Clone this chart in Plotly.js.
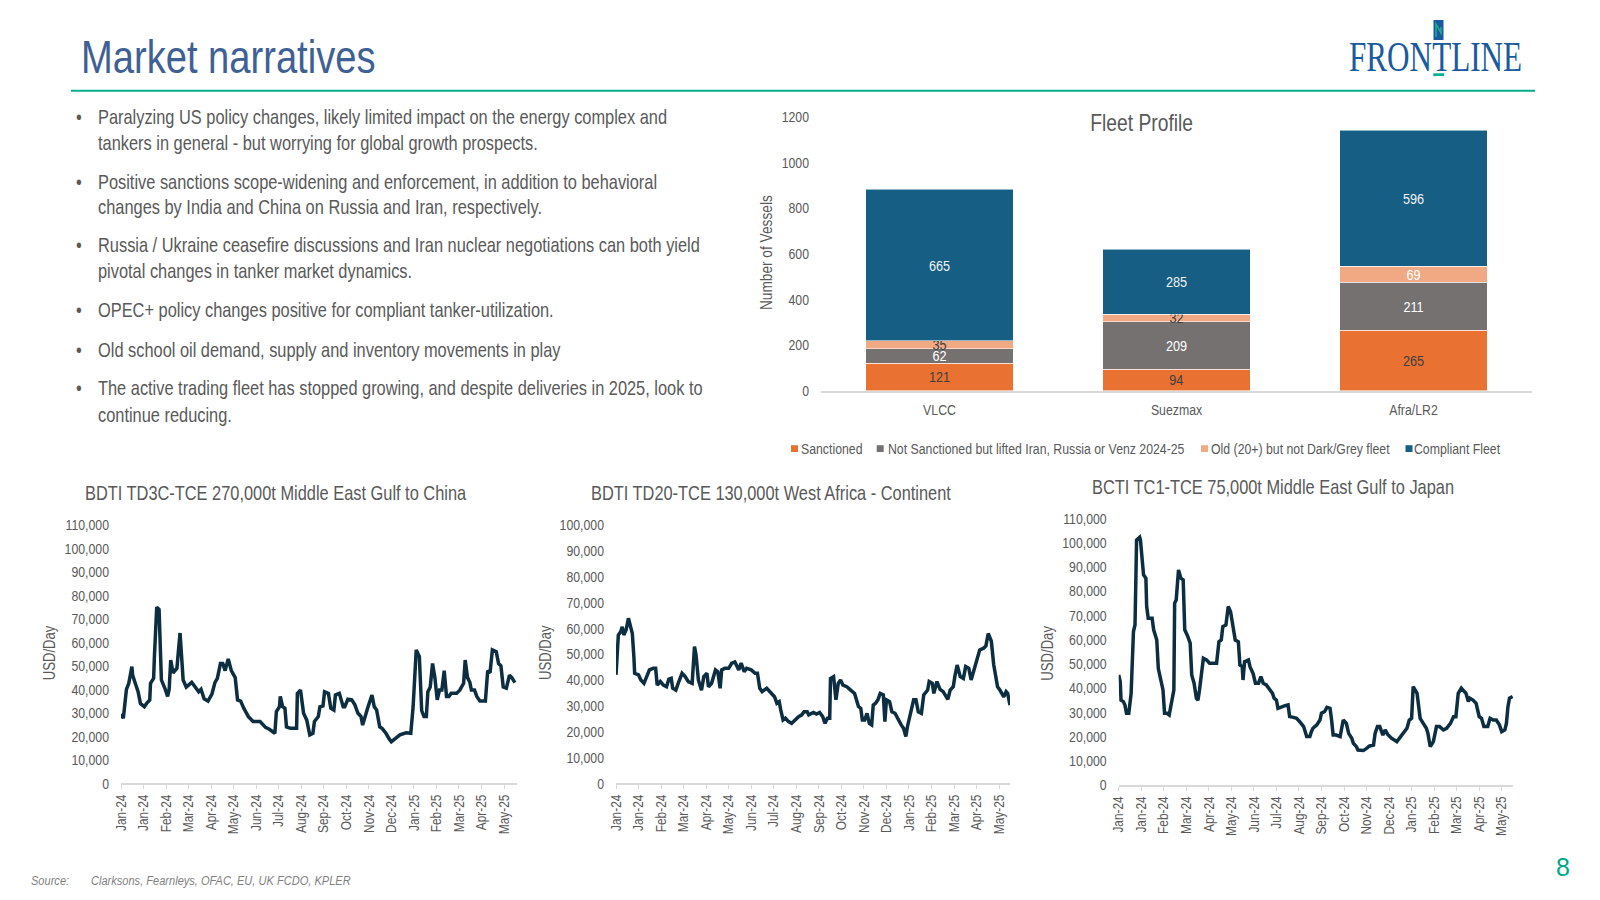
<!DOCTYPE html>
<html>
<head>
<meta charset="utf-8">
<script src="https://cdn.plot.ly/plotly-3.0.1.min.js"></script>
<style>
html,body{margin:0;padding:0;background:#ffffff;}
#wrap{position:relative;width:1600px;height:900px;overflow:hidden;}
#chart{position:absolute;left:0;top:0;width:1600px;height:900px;}
#logo{position:absolute;left:1349px;top:36px;font-family:"Liberation Serif","Times New Roman",serif;font-size:42px;line-height:42px;color:#1a5a9e;transform:scaleX(0.742);transform-origin:0 0;white-space:nowrap;letter-spacing:0px;}
</style>
</head>
<body>
<div id="wrap">
<div id="chart"></div>
<div id="logo">FRONTLINE</div>
</div>
<script>
// ---------------- DATA ----------------
const fleetCategories = ['VLCC', 'Suezmax', 'Afra/LR2'];
const fleetSanctioned = [121, 94, 265];
const fleetNotSanctionedLifted = [62, 209, 211];
const fleetOldNotDark = [35, 32, 69];
const fleetCompliant = [665, 285, 596];
const fleetSeriesNames = ['Sanctioned', 'Not Sanctioned but lifted Iran, Russia or Venz 2024-25', 'Old (20+) but not Dark/Grey fleet', 'Compliant Fleet'];

// day offsets from 1 Jan 2024
const td3cDays = [0,3,7,10,14,15,19,22,25,30,33,37,38,42,43,46,49,52,57,60,62,64,67,72,73,76,80,84,91,95,100,103,107,112,117,121,124,128,131,134,138,142,147,150,154,158,164,170,179,186,191,198,200,204,205,208,211,213,218,226,227,231,235,239,243,247,249,254,256,260,262,267,270,274,276,281,286,288,292,297,301,305,309,311,314,318,323,326,329,333,336,341,345,348,353,359,367,373,376,380,384,387,390,393,395,398,401,404,407,410,413,416,419,422,425,432,436,441,443,446,449,451,455,458,462,469,472,475,478,483,486,489,492,496,500,503,507];
const td3cRates = [29500,27700,40000,42600,49700,46000,42000,39000,34000,32600,34000,35500,42600,44700,54000,75000,74000,44000,40000,37000,40000,52500,47000,49000,53000,64000,44000,41000,43000,41000,39000,40000,36000,35000,38000,43000,44700,51000,51000,48000,53000,48000,45000,35500,35000,32000,28400,26300,26300,23800,23000,21300,30500,32600,37000,32600,32000,24000,23400,23400,38300,39700,29800,27000,20600,21300,26300,28400,32600,33000,39000,38300,32000,31200,37600,38300,32600,32600,35800,35500,33400,29800,28400,24800,28400,32600,37600,32600,31200,24000,23400,21300,19000,17700,19000,20600,21500,21300,32600,56800,54000,31000,28400,28400,39000,41000,51000,45000,35500,39700,39700,48000,37000,37000,38300,38300,39700,42600,52500,45000,43000,39700,39700,37000,35000,35000,48000,47000,56800,56000,51000,50000,41000,40500,46000,45000,42900];

const td20Days = [0,3,6,8,10,13,16,19,21,23,24,29,32,36,40,43,48,51,53,57,61,65,68,71,73,77,80,85,89,93,98,101,103,106,110,113,117,119,123,128,131,134,136,140,145,149,153,158,161,165,168,174,179,182,185,188,194,198,202,204,207,210,212,215,218,222,226,230,235,239,242,246,248,254,258,262,266,269,272,275,276,280,283,286,289,292,297,302,307,312,315,317,320,323,326,329,331,334,337,340,344,346,348,352,355,359,363,367,370,373,375,379,383,386,389,393,396,401,403,407,409,413,417,421,427,430,434,436,439,443,447,450,454,457,461,464,468,473,476,479,483,486,488,491,494,499,502,504,507];
const td20Rates = [42000,57400,58700,60600,57400,59400,63900,59400,58000,49000,42600,42000,40000,38700,41300,43900,44500,44500,38000,39400,38000,37400,40300,40600,36800,36100,38700,42600,41300,39400,38700,52900,49700,40000,36000,41300,42600,37400,38700,43900,43200,36800,43900,44500,44500,46500,47000,43900,46500,43200,44500,43900,42600,42600,36800,35500,36800,35500,34200,33500,31000,31600,28400,24500,25200,23900,23200,24500,25800,26500,27700,27700,26500,27400,26800,27400,25800,23200,25200,25200,40600,41300,32300,38700,40000,38000,37400,36100,34800,29700,29000,24500,24500,27100,23200,22600,30300,31000,32300,34800,34200,23900,32300,31600,27700,27100,24500,22600,21300,18100,21900,27100,32300,32300,27700,27100,34200,36100,39400,38700,34800,39400,36400,35500,32500,36100,37400,41300,45800,41300,40600,45200,44500,40000,44500,48400,51600,52300,53200,58000,55000,46000,42000,37400,36100,33500,35500,34800,30300];

const tc1Days = [0,2,3,6,8,10,13,15,16,19,21,23,27,28,32,35,36,38,43,45,49,51,54,57,59,62,65,68,71,72,74,77,80,83,85,89,92,94,97,100,102,104,107,109,113,117,126,129,132,134,138,141,144,147,150,154,156,159,160,162,167,169,173,176,180,183,186,190,195,198,200,203,205,210,214,218,220,225,229,233,238,242,246,248,250,255,259,261,265,268,272,274,276,280,285,289,293,296,300,302,306,308,315,319,323,328,330,333,336,340,343,346,351,358,364,371,374,377,379,381,384,388,392,396,398,401,405,409,413,418,422,427,431,434,437,441,447,450,452,456,460,464,467,470,475,478,482,486,490,493,497,499,501,503,507];
const tc1Rates = [45400,42600,35000,34400,33000,29600,29600,33700,37800,63300,66000,101000,102200,101000,86700,85300,73600,68800,68800,64000,59800,48000,43300,39200,29600,29600,28900,35000,39200,75000,76300,88700,85300,84600,64000,61200,58500,45400,42000,35800,35000,39200,48800,52300,51600,50200,50200,59100,59800,65300,66000,73600,71500,64600,59800,59100,49500,48800,43300,50900,51600,48800,46000,42000,42000,44700,42000,41300,39200,37800,35800,35000,31600,32300,32700,33000,28200,27900,27500,26100,24100,20000,20000,22000,23400,24800,26800,29600,30300,32000,31600,26800,20600,20600,20000,26800,25400,21300,19300,17200,15800,14400,14200,15100,16100,16500,21300,24100,24100,20600,22700,21000,19300,17900,20600,23400,26800,27500,40600,39200,37800,27500,25400,23400,21300,15800,17900,24100,24100,22700,23400,25400,28200,28200,37800,39900,37800,34400,35800,35000,33700,28200,27500,24100,24100,27500,26800,26800,24800,22000,22700,25400,32300,35800,36500];

const chartTitles = ['BDTI TD3C-TCE 270,000t Middle East Gulf to China', 'BDTI TD20-TCE 130,000t West Africa - Continent', 'BCTI TC1-TCE 75,000t Middle East Gulf to Japan'];

const bulletLines = [
  ['Paralyzing US policy changes, likely limited impact on the energy complex and', 'tankers in general - but worrying for global growth prospects.'],
  ['Positive sanctions scope-widening and enforcement, in addition to behavioral', 'changes by India and China on Russia and Iran, respectively.'],
  ['Russia / Ukraine ceasefire discussions and Iran nuclear negotiations can both yield', 'pivotal changes in tanker market dynamics.'],
  ['OPEC+ policy changes positive for compliant tanker-utilization.'],
  ['Old school oil demand, supply and inventory movements in play'],
  ['The active trading fleet has stopped growing, and despite deliveries in 2025, look to', 'continue reducing.']
];

// ---------------- HELPERS ----------------
const W = 1600, H = 900;
const px = x => x / W;
const py = y => 1 - y / H;
const NARROW = '"Liberation Sans Narrow", "Arial Narrow", "Liberation Sans", Arial, sans-serif';
const GREY = '#595959';
const DAY = 86400000;
const START = Date.UTC(2024, 0, 1);
const toDate = d => new Date(START + d * DAY).toISOString().replace('T', ' ').slice(0, 19);

// ---------------- TRACES ----------------
const fleetValues = [fleetSanctioned, fleetNotSanctionedLifted, fleetOldNotDark, fleetCompliant];
const fleetColors = ['#E97132', '#767171', '#F1A983', '#165E83'];
const fleetLabelColors = [
  ['#404040', '#404040', '#404040'],
  ['#ffffff', '#ffffff', '#ffffff'],
  ['#404040', '#404040', '#ffffff'],
  ['#f2f2f2', '#f2f2f2', '#f2f2f2']
];
const traces = [];
fleetValues.forEach((vals, i) => {
  traces.push({
    type: 'bar', name: fleetSeriesNames[i], x: fleetCategories, y: vals,
    xaxis: 'x', yaxis: 'y',
    marker: {color: fleetColors[i], line: {color: 'rgba(255,255,255,0.55)', width: 1}},
    text: vals.map(String), textposition: 'inside', insidetextanchor: 'middle',
    textangle: 0, constraintext: 'none',
    textfont: {family: NARROW, size: 15.5, color: fleetLabelColors[i]},
    showlegend: false, hoverinfo: 'skip'
  });
});

const lineSeries = [[td3cDays, td3cRates], [td20Days, td20Rates], [tc1Days, tc1Rates]];
lineSeries.forEach((s, i) => {
  traces.push({
    type: 'scatter', mode: 'lines', x: s[0].map(toDate), y: s[1],
    xaxis: 'x' + (i + 2), yaxis: 'y' + (i + 2),
    line: {color: '#0c2e40', width: 3.5, shape: 'linear'},
    showlegend: false, hoverinfo: 'skip'
  });
});

// ---------------- LAYOUT ----------------
const tickFont = {family: NARROW, size: 15, color: GREY};
function dateAxis(x0, x1, endDay) {
  return {
    type: 'date', domain: [px(x0), px(x1)], range: [toDate(0), toDate(endDay)],
    tick0: '2024-01-01', dtick: 29 * DAY, tickformat: '%b-%y', tickangle: -90,
    ticks: 'outside', ticklen: 4, tickcolor: '#d9d9d9', tickwidth: 1,
    showline: true, linecolor: '#d9d9d9', linewidth: 1.5,
    showgrid: false, zeroline: false,
    tickfont: {family: NARROW, size: 14.5, color: GREY}, fixedrange: true
  };
}
function valueAxis(y0, y1, maxV, anchor) {
  return {
    domain: [py(y1), py(y0)], range: [0, maxV], dtick: 10000, tickformat: ',.0f',
    showgrid: false, zeroline: false, showline: false, ticks: '',
    ticklabelstandoff: 11, tickfont: tickFont, anchor: anchor, fixedrange: true
  };
}

const layout = {
  width: W, height: H, margin: {l: 0, r: 0, t: 0, b: 0},
  paper_bgcolor: '#ffffff', plot_bgcolor: 'rgba(0,0,0,0)',
  barmode: 'stack', bargap: 0.376, showlegend: false,
  font: {family: NARROW, color: GREY},
  xaxis: {domain: [px(821), px(1532)], anchor: 'y', showline: true, linecolor: '#d9d9d9', linewidth: 2,
          ticks: '', tickfont: tickFont, ticklabelstandoff: 4, fixedrange: true},
  yaxis: {domain: [py(390.7), py(116.7)], range: [0, 1200], dtick: 200, anchor: 'x',
          showgrid: false, zeroline: false, showline: false, ticks: '', ticklabelstandoff: 11,
          tickfont: tickFont, fixedrange: true},
  xaxis2: Object.assign(dateAxis(121, 517, 509.7), {anchor: 'y2'}),
  yaxis2: valueAxis(525, 783.3, 110000, 'x2'),
  xaxis3: Object.assign(dateAxis(616, 1010, 507), {anchor: 'y3'}),
  yaxis3: valueAxis(525, 783.3, 100000, 'x3'),
  xaxis4: Object.assign(dateAxis(1118.7, 1513, 507.5), {anchor: 'y4'}),
  yaxis4: valueAxis(518.3, 785, 110000, 'x4'),
  shapes: [],
  annotations: []
};

const ann = layout.annotations, shp = layout.shapes;
function text(x, y, t, size, color, opts) {
  const o = Object.assign({xref: 'paper', yref: 'paper', x: px(x), y: py(y), text: t, showarrow: false,
    xanchor: 'left', yanchor: 'middle', font: {family: NARROW, size: size, color: color}}, opts || {});
  o.align = o.xanchor === 'left' ? 'left' : (o.xanchor === 'right' ? 'right' : 'center');
  ann.push(o);
}

// header
text(79, 57, 'Market narratives', 46.5, '#3E6094');
shp.push({type: 'line', xref: 'paper', yref: 'paper', x0: px(71), x1: px(1535), y0: py(90.7), y1: py(90.7), line: {color: '#00AE8C', width: 2}});
// logo marks
shp.push({type: 'rect', xref: 'paper', yref: 'paper', x0: px(1433.5), x1: px(1443.5), y0: py(40), y1: py(20), fillcolor: '#1a5a9e', line: {width: 0}});
shp.push({type: 'path', xref: 'paper', yref: 'paper', path: 'M ' + px(1436) + ' ' + py(37) + ' L ' + px(1436) + ' ' + py(24) + ' L ' + px(1441) + ' ' + py(33) + ' L ' + px(1441) + ' ' + py(27), line: {color: '#1fb58c', width: 1.4}});
shp.push({type: 'rect', xref: 'paper', yref: 'paper', x0: px(1433.3), x1: px(1444), y0: py(76), y1: py(73.3), fillcolor: '#00AE8C', line: {width: 0}});

// bullets
const bulletY = [[116.7, 142.7], [181.7, 206.7], [245, 271], [310], [350], [388.3, 415]];
bulletLines.forEach((lines, i) => {
  text(73.5, bulletY[i][0], '•', 20, GREY);
  lines.forEach((l, j) => text(95.5, bulletY[i][j], l, 20, GREY));
});

// fleet profile title and axis title
text(1141, 123, 'Fleet Profile', 23.5, GREY, {xanchor: 'center'});
text(766.7, 253, 'Number of Vessels', 16.7, GREY, {xanchor: 'center', textangle: -90});

// custom legend
const legSq = [791, 876.7, 1201, 1405.5];
const legTx = [798.5, 885.5, 1209, 1411.5];
fleetSeriesNames.forEach((n, i) => {
  shp.push({type: 'rect', xref: 'paper', yref: 'paper', x0: px(legSq[i]), x1: px(legSq[i] + 7), y0: py(452), y1: py(445.2), fillcolor: fleetColors[i], line: {width: 0}});
  text(legTx[i], 448.5, n, 15, GREY);
});

// line chart titles and axis titles
text(82.5, 493, chartTitles[0], 20, GREY);
text(589, 493, chartTitles[1], 20, GREY);
text(1090, 486.5, chartTitles[2], 20, GREY);
[49.3, 545, 1046.7].forEach(x => text(x, 653, 'USD/Day', 16, GREY, {xanchor: 'center', textangle: -90}));

// footer
text(29, 880, '<i>Source:</i>', 13.5, '#7f7f7f');
text(89, 880, '<i>Clarksons, Fearnleys, OFAC, EU, UK FCDO, KPLER</i>', 13.5, '#7f7f7f');
text(1563, 866.5, '8', 25, '#00A886', {xanchor: 'center', font: {family: '"Liberation Sans", Arial, sans-serif', size: 25, color: '#00A886'}});

// The slide uses a narrow sans face; if none is installed, condense the regular one
// horizontally (along each text's own direction) around its anchor point.
const CONDENSE = 0.82;
function narrowInstalled() {
  const c = document.createElement('canvas').getContext('2d');
  const s = 'abcdefghijklmnopqrstuvwxyz0123456789';
  let same = true;
  ['monospace', 'serif'].forEach(fb => {
    c.font = '30px ' + fb; const w0 = c.measureText(s).width;
    c.font = '30px "Liberation Sans Narrow", ' + fb; const w1 = c.measureText(s).width;
    c.font = '30px "Arial Narrow", ' + fb; const w2 = c.measureText(s).width;
    if (Math.abs(w0 - w1) > 0.5 || Math.abs(w0 - w2) > 0.5) same = false;
  });
  return !same;
}
function condenseTexts(gd) {
  if (narrowInstalled()) return;
  gd.querySelectorAll('text').forEach(t => {
    if (t.textContent === '8' || !t.textContent.trim()) return;
    const ax = parseFloat(t.getAttribute('x')) || 0;
    const tr = t.getAttribute('transform') || '';
    t.setAttribute('transform', (tr + ' translate(' + ax + ',0) scale(' + CONDENSE + ',1) translate(' + (-ax) + ',0)').trim());
  });
  // shrink the invisible annotation boxes so they hug the condensed text
  gd.querySelectorAll('g.annotation').forEach(g => {
    const t = g.querySelector('text.annotation-text');
    if (!t || t.textContent === '8') return;
    const anchor = t.getAttribute('text-anchor');
    g.querySelectorAll('rect').forEach(r => {
      const w = parseFloat(r.getAttribute('width'));
      const h = parseFloat(r.getAttribute('height'));
      if (!(w > 0) || w < h) return;
      const x = parseFloat(r.getAttribute('x') || 0);
      const nw = w * CONDENSE;
      const shift = anchor === 'middle' ? (w - nw) / 2 : (anchor === 'end' ? (w - nw) : 0);
      r.setAttribute('x', (x + shift).toFixed(2));
      r.setAttribute('width', nw.toFixed(2));
    });
  });
}

Plotly.newPlot('chart', traces, layout, {staticPlot: true, displayModeBar: false}).then(condenseTexts);
</script>
</body>
</html>
